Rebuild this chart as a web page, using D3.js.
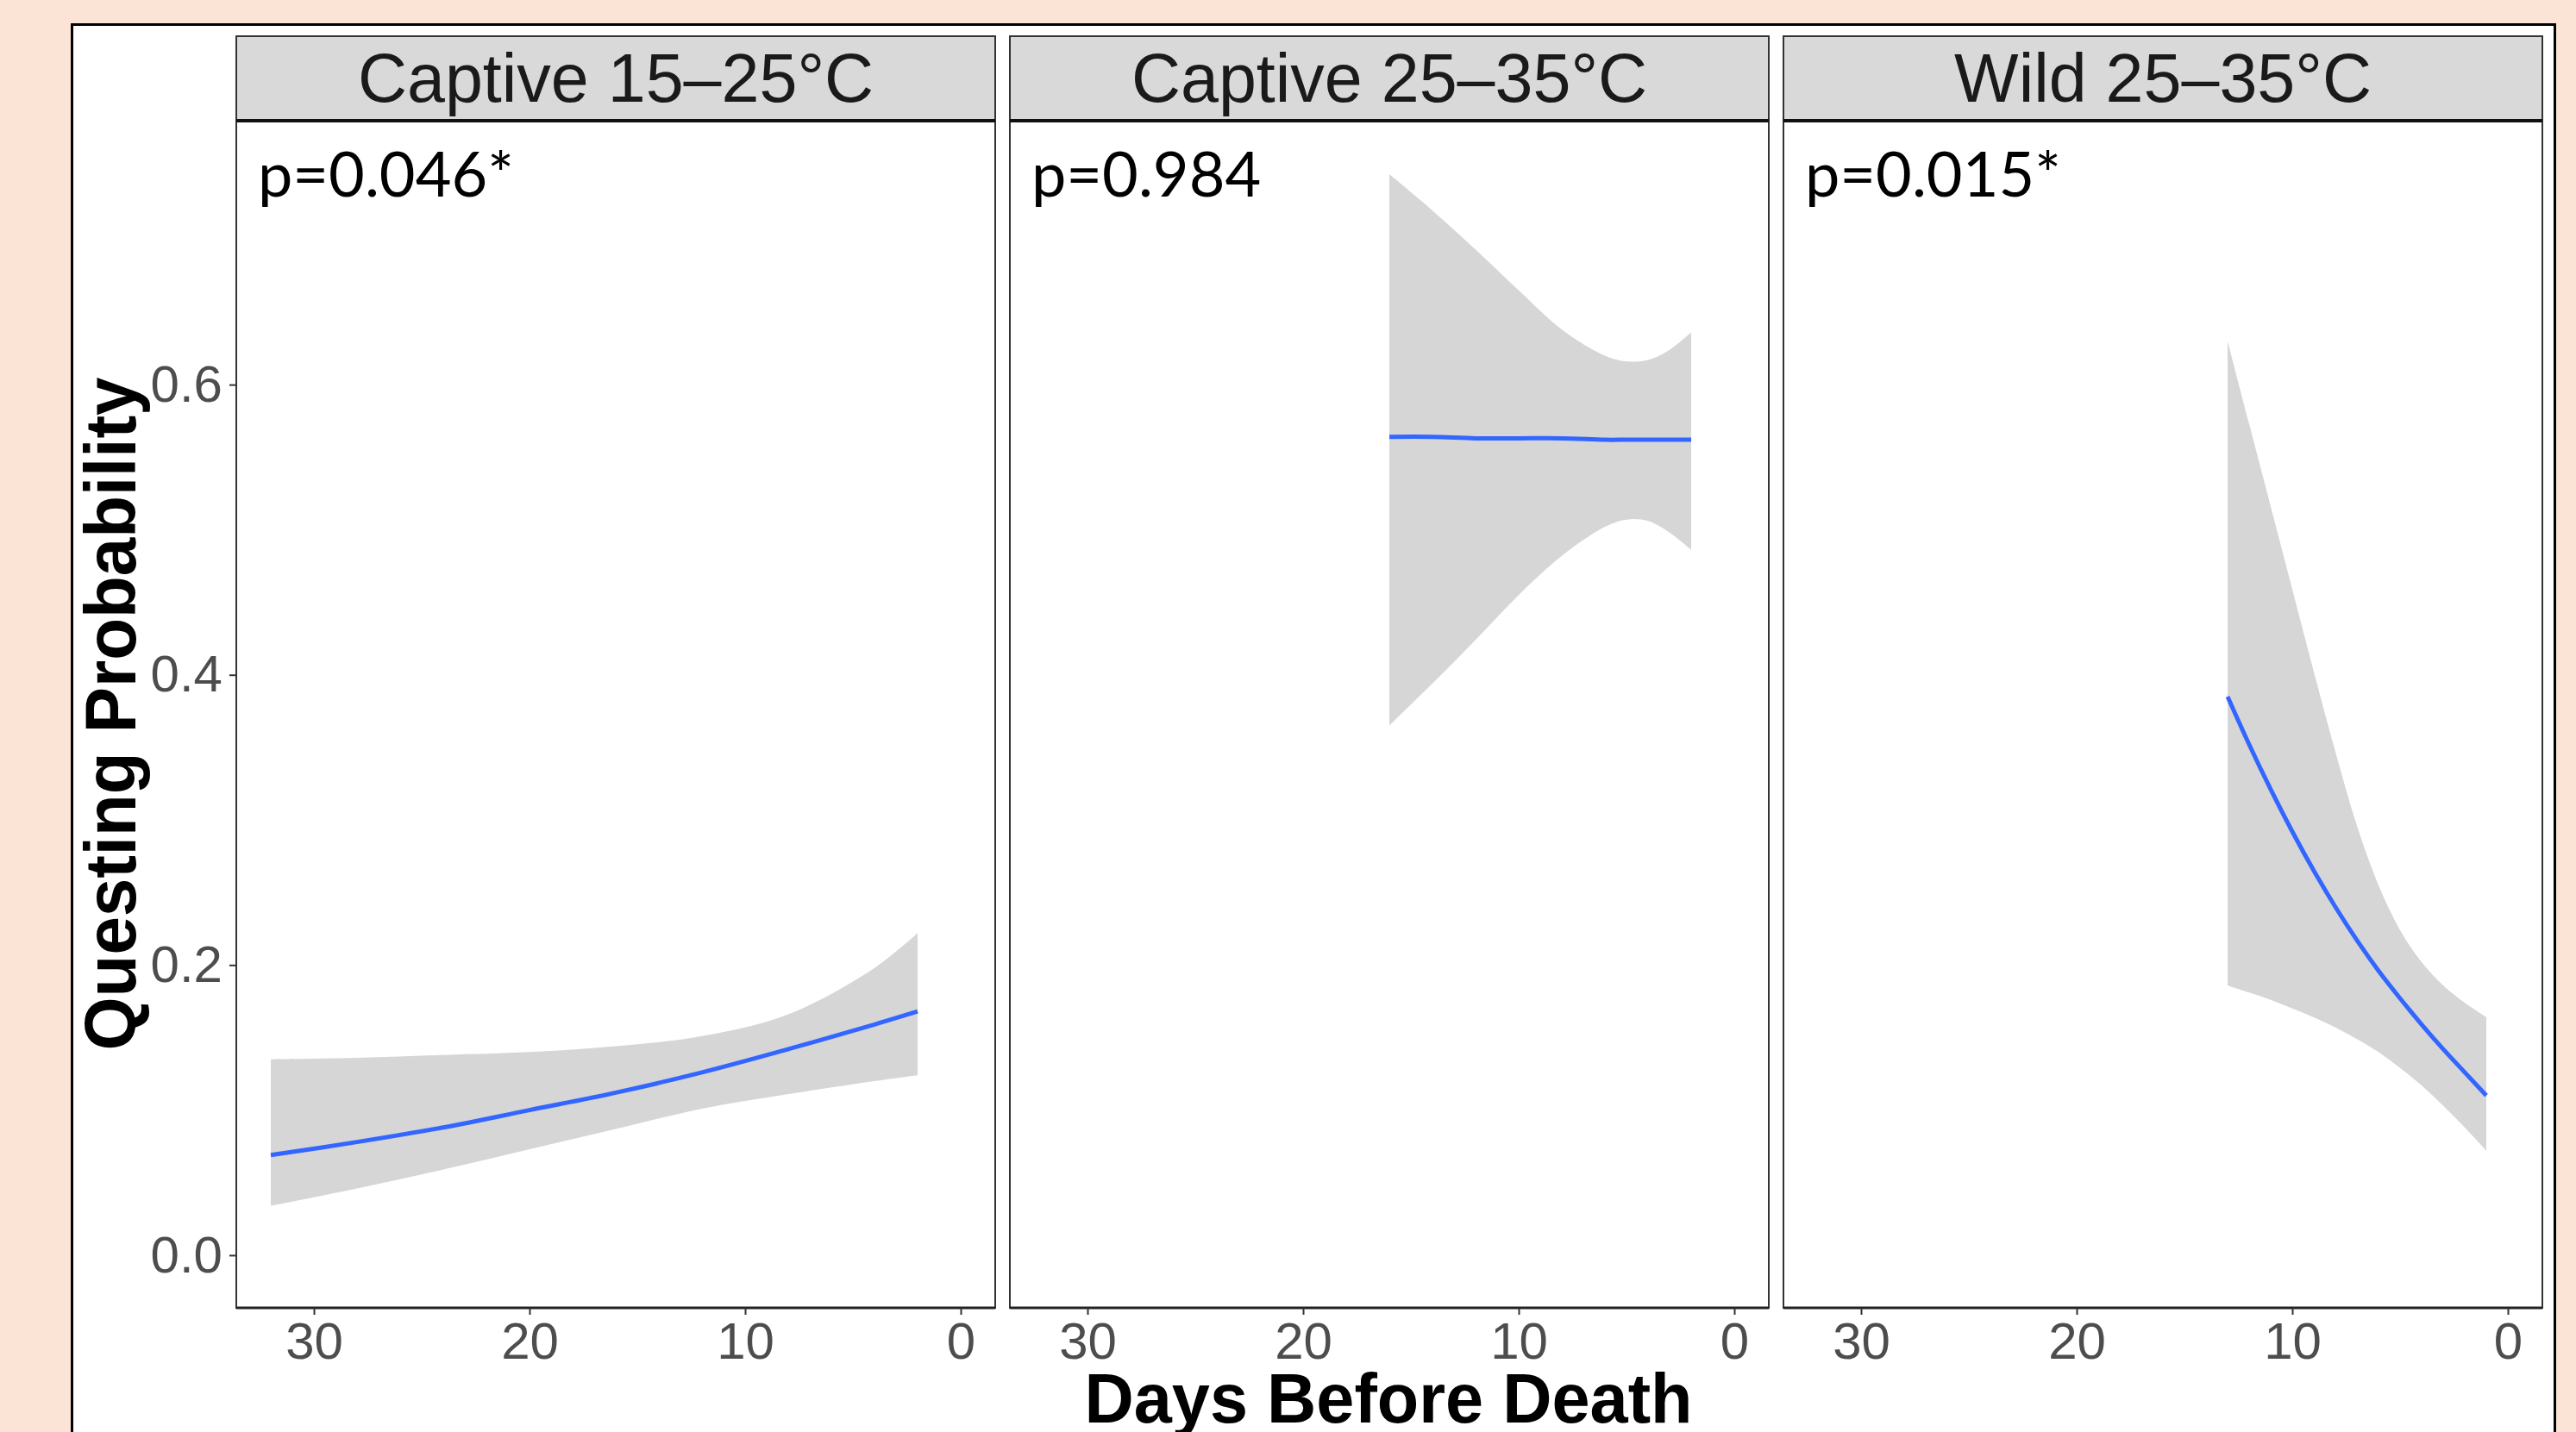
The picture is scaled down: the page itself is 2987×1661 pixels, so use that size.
<!DOCTYPE html>
<html>
<head>
<meta charset="utf-8">
<script src="https://cdnjs.cloudflare.com/ajax/libs/d3/7.8.5/d3.min.js"></script>
<style>
    body { margin: 0; background: #FBE4D6; }
    svg { display: block; }
</style>
</head>
<body>
<svg id="chart"></svg>
<script>
// facet names and p-values
var panels = ["Captive 15–25°C", "Captive 25–35°C", "Wild 25–35°C"];
var pLabels = ["p=0.046*", "p=0.984", "p=0.015*"];

var xTicks = [30, 20, 10, 0];
var yTicks = [0.0, 0.2, 0.4, 0.6];

// Captive 15-25
var days1 = [32, 28, 24, 20, 16, 12, 8, 4, 2];
var fit1 = [0.069, 0.078, 0.088, 0.100, 0.112, 0.126, 0.142, 0.159, 0.168];
var upper1 = [0.135, 0.136, 0.138, 0.140, 0.144, 0.151, 0.166, 0.198, 0.222];
var lower1 = [0.034, 0.046, 0.059, 0.073, 0.087, 0.101, 0.111, 0.120, 0.124];

// Captive 25-35
var days2 = [16, 14, 12, 10, 8, 6, 5, 4, 3, 2];
var fit2 = [0.564, 0.564, 0.563, 0.563, 0.563, 0.562, 0.562, 0.562, 0.562, 0.562];
var upper2 = [0.745, 0.720, 0.693, 0.665, 0.638, 0.620, 0.616, 0.617, 0.624, 0.636];
var lower2 = [0.365, 0.394, 0.424, 0.455, 0.482, 0.502, 0.507, 0.506, 0.498, 0.486];

// Wild 25-35
var days3 = [13, 12, 11, 10, 9, 8, 7, 6, 5, 4, 3, 2, 1];
var fit3 = [0.385, 0.352, 0.321, 0.292, 0.265, 0.240, 0.217, 0.196, 0.177, 0.159, 0.142, 0.126, 0.110];
var upper3 = [0.630, 0.573, 0.516, 0.459, 0.402, 0.347, 0.296, 0.255, 0.224, 0.202, 0.186, 0.174, 0.164];
var lower3 = [0.186, 0.181, 0.176, 0.170, 0.164, 0.157, 0.149, 0.140, 0.129, 0.117, 0.103, 0.088, 0.072];

var series = [
    { days: days1, fit: fit1, lower: lower1, upper: upper1 },
    { days: days2, fit: fit2, lower: lower2, upper: upper2 },
    { days: days3, fit: fit3, lower: lower3, upper: upper3 }
];

var width = 2987, height = 1661;
var font = "'Liberation Sans', Arial, Helvetica, sans-serif";

var svg = d3.select('#chart').attr('width', width).attr('height', height);

svg.append('rect')
    .attr('width', width).attr('height', height)
    .attr('fill', '#FBE4D6');

// white slide box
svg.append('rect')
    .attr('x', 83.5).attr('y', 28.5)
    .attr('width', 2879).attr('height', 1700)
    .attr('fill', '#fff')
    .attr('stroke', '#000')
    .attr('stroke-width', 3);

var panelX = [274, 1171, 2068];
var panelW = 880;
var stripTop = 42, stripBottom = 140, plotBottom = 1517;

var y = d3.scaleLinear().domain([-0.0363, 0.7819]).range([plotBottom, stripBottom]);

series.forEach(function (s, i) {
    var x = d3.scaleLinear().domain([33.6, -1.6]).range([panelX[i], panelX[i] + panelW]);
    var rows = s.days.map(function (d, j) {
        return { day: d, fit: s.fit[j], lower: s.lower[j], upper: s.upper[j] };
    });

    var g = svg.append('g').attr('class', 'panel');

    var area = d3.area()
        .x(function (d) { return x(d.day); })
        .y0(function (d) { return y(d.lower); })
        .y1(function (d) { return y(d.upper); })
        .curve(d3.curveCatmullRom);

    var line = d3.line()
        .x(function (d) { return x(d.day); })
        .y(function (d) { return y(d.fit); })
        .curve(d3.curveCatmullRom);

    g.append('path')
        .datum(rows)
        .attr('d', area)
        .attr('fill', '#D6D6D6');

    g.append('path')
        .datum(rows)
        .attr('d', line)
        .attr('fill', 'none')
        .attr('stroke', '#3366FF')
        .attr('stroke-width', 5);

    // panel border
    g.append('rect')
        .attr('x', panelX[i]).attr('y', stripBottom)
        .attr('width', panelW).attr('height', plotBottom - stripBottom)
        .attr('fill', 'none')
        .attr('stroke', '#333')
        .attr('stroke-width', 2);

    g.append('line')
        .attr('x1', panelX[i]).attr('x2', panelX[i] + panelW)
        .attr('y1', plotBottom).attr('y2', plotBottom)
        .attr('stroke', '#222')
        .attr('stroke-width', 3);

    // strip
    g.append('rect')
        .attr('x', panelX[i]).attr('y', stripTop)
        .attr('width', panelW).attr('height', stripBottom - stripTop)
        .attr('fill', '#D9D9D9')
        .attr('stroke', '#333')
        .attr('stroke-width', 2);

    g.append('line')
        .attr('x1', panelX[i]).attr('x2', panelX[i] + panelW)
        .attr('y1', stripBottom).attr('y2', stripBottom)
        .attr('stroke', '#111')
        .attr('stroke-width', 4);

    g.append('text')
        .attr('x', panelX[i] + panelW / 2)
        .attr('y', 118)
        .attr('text-anchor', 'middle')
        .style('font-family', font)
        .style('font-size', '79px')
        .attr('fill', '#1A1A1A')
        .text(panels[i]);

    g.append('text')
        .attr('x', panelX[i] + 25)
        .attr('y', 228)
        .style('font-family', "Lato, 'Open Sans', sans-serif")
        .style('font-size', '72px')
        .attr('fill', '#000')
        .text(pLabels[i]);

    // x axis
    var xAxis = g.append('g')
        .attr('transform', 'translate(0,' + plotBottom + ')')
        .call(d3.axisBottom(x).tickValues(xTicks).tickSize(8).tickPadding(8));
    xAxis.select('.domain').remove();
    xAxis.selectAll('line').attr('stroke', '#333').attr('stroke-width', 2);
    xAxis.selectAll('text')
        .style('font-family', font)
        .style('font-size', '60px')
        .attr('fill', '#4D4D4D');

    if (i === 0) {
        var yAxis = g.append('g')
            .attr('transform', 'translate(' + panelX[0] + ',0)')
            .call(d3.axisLeft(y).tickValues(yTicks).tickFormat(d3.format('.1f')).tickSize(8).tickPadding(8));
        yAxis.select('.domain').remove();
        yAxis.selectAll('line').attr('stroke', '#333').attr('stroke-width', 2);
        yAxis.selectAll('text')
            .style('font-family', font)
            .style('font-size', '60px')
            .attr('fill', '#4D4D4D');
    }
});

// axis titles
svg.append('text')
    .attr('transform', 'translate(157,828) rotate(-90)')
    .attr('text-anchor', 'middle')
    .attr('textLength', 781)
    .attr('lengthAdjust', 'spacingAndGlyphs')
    .style('font-family', font)
    .style('font-weight', 'bold')
    .style('font-size', '84px')
    .attr('fill', '#000')
    .text('Questing Probability');

svg.append('text')
    .attr('x', 1610)
    .attr('y', 1650)
    .attr('text-anchor', 'middle')
    .attr('textLength', 705)
    .attr('lengthAdjust', 'spacingAndGlyphs')
    .style('font-family', font)
    .style('font-weight', 'bold')
    .style('font-size', '82px')
    .attr('fill', '#000')
    .text('Days Before Death');
</script>
</body>
</html>
